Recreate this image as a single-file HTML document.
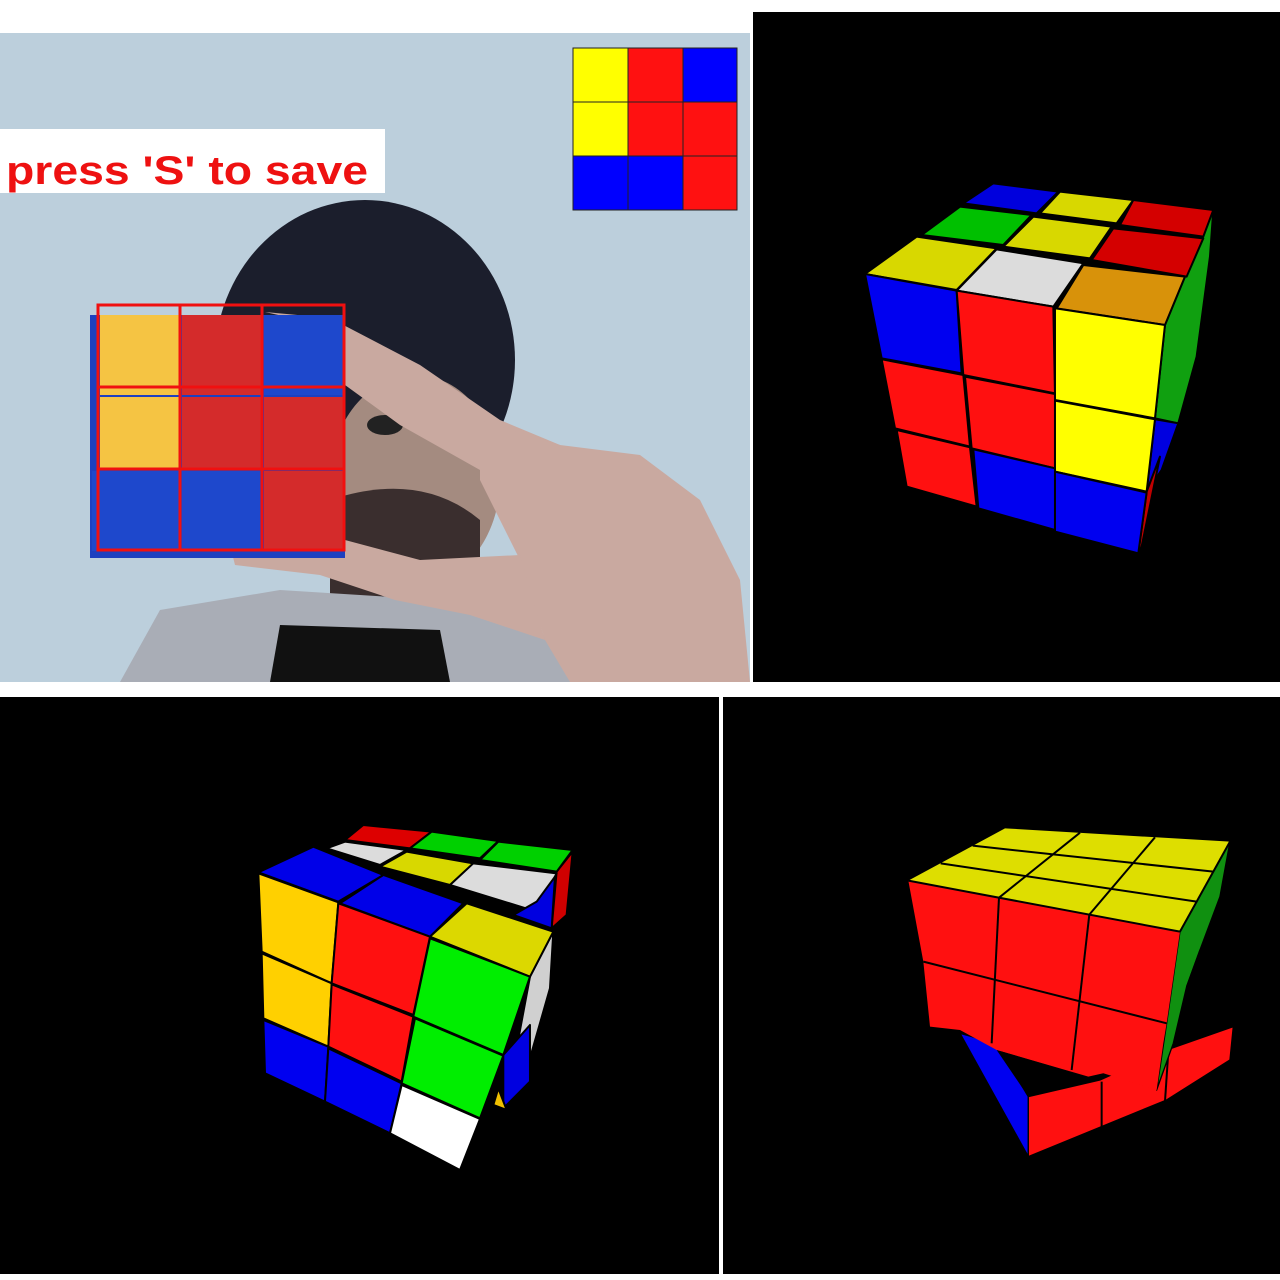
<!DOCTYPE html>
<html><head><meta charset="utf-8"><style>
html,body{margin:0;padding:0;background:#fff;width:1280px;height:1280px;overflow:hidden}
svg{display:block}
</style></head><body>
<svg width="1280" height="1280" viewBox="0 0 1280 1280">
<rect x="0" y="0" width="1280" height="1280" fill="#fff"/>
<!-- Top-left webcam photo -->
<g>
  <rect x="0" y="33" width="750" height="649" fill="#bccfdc"/>
  <ellipse cx="365" cy="360" rx="150" ry="160" fill="#1b1e2c"/>
  <ellipse cx="415" cy="480" rx="85" ry="105" fill="#a48b80"/>
  <ellipse cx="385" cy="425" rx="18" ry="10" fill="#222"/>
  <path d="M330 500 Q420 470 480 520 L480 620 L330 620Z" fill="#3a2e2e"/>
  <path d="M120 682 L160 610 L280 590 L440 600 L560 640 L580 682Z" fill="#a9adb6"/>
  <path d="M270 682 L280 625 L440 630 L450 682Z" fill="#111"/>
  <g fill="#c9a9a0">
    <path d="M265 312 L330 318 L420 365 L500 420 L560 445 L560 500 L480 470 L400 425 L345 385 L345 330Z"/>
    <path d="M480 420 L560 445 L640 455 L700 500 L740 580 L750 682 L570 682 L545 640 L520 560 L480 480Z"/>
    <path d="M230 545 L345 540 L420 560 L520 555 L545 640 L470 615 L395 600 L320 575 L235 565Z"/>
  </g>
  <!-- physical cube -->
  <g>
    <rect x="90" y="315" width="255" height="243" fill="#1d40c0"/>
    <rect x="100" y="315" width="80" height="80" fill="#f5c443"/>
    <rect x="182" y="315" width="80" height="80" fill="#d42b2b"/>
    <rect x="264" y="315" width="80" height="80" fill="#1e48cc"/>
    <rect x="100" y="397" width="80" height="72" fill="#f5c443"/>
    <rect x="182" y="397" width="80" height="72" fill="#d42b2b"/>
    <rect x="264" y="397" width="80" height="72" fill="#d42b2b"/>
    <rect x="92" y="471" width="88" height="80" fill="#1e48cc"/>
    <rect x="182" y="471" width="80" height="80" fill="#1e48cc"/>
    <rect x="264" y="471" width="80" height="80" fill="#d42b2b"/>
  </g>
  <g fill="none" stroke="#f01010" stroke-width="3">
    <rect x="98" y="305" width="246" height="245"/>
    <line x1="180" y1="305" x2="180" y2="550"/><line x1="262" y1="305" x2="262" y2="550"/>
    <line x1="98" y1="387" x2="344" y2="387"/><line x1="98" y1="469" x2="344" y2="469"/>
  </g>
  <rect x="0" y="129" width="385" height="64" fill="#fff"/>
  <text x="6" y="184" font-family="'Liberation Sans',sans-serif" font-size="40" font-weight="bold" fill="#ee1111" textLength="362" lengthAdjust="spacingAndGlyphs">press 'S' to save</text>
  <g stroke="#222" stroke-width="1">
    <rect x="573" y="48" width="55" height="54" fill="#ffff00"/>
    <rect x="628" y="48" width="55" height="54" fill="#ff1111"/>
    <rect x="683" y="48" width="54" height="54" fill="#0000ff"/>
    <rect x="573" y="102" width="55" height="54" fill="#ffff00"/>
    <rect x="628" y="102" width="55" height="54" fill="#ff1111"/>
    <rect x="683" y="102" width="54" height="54" fill="#ff1111"/>
    <rect x="573" y="156" width="55" height="54" fill="#0000ff"/>
    <rect x="628" y="156" width="55" height="54" fill="#0000ff"/>
    <rect x="683" y="156" width="54" height="54" fill="#ff1111"/>
  </g>
</g>
<!-- black panels -->
<rect x="753" y="12" width="527" height="670" fill="#000"/>
<rect x="0" y="697" width="719" height="577" fill="#000"/>
<rect x="723" y="697" width="557" height="577" fill="#000"/>

<!-- Cube 1 -->
<g transform="translate(850,170) scale(0.3333)" stroke="#000" stroke-width="6" stroke-linejoin="round">
  <polygon points="945,465 1005,320 1090,120 1080,260 1040,560 985,760 915,745" fill="#10a010"/>
  <polygon points="915,748 985,760 935,900 890,965" fill="#0000e0"/>
  <polygon points="890,965 930,860 875,1130 865,1150" fill="#c00000"/>
  <polygon points="340,100 430,40 625,65 560,130" fill="#0000dd"/>
  <polygon points="570,130 630,65 850,90 800,160" fill="#d8d800"/>
  <polygon points="810,165 850,90 1090,120 1060,200" fill="#d40000"/>
  <polygon points="215,195 330,110 545,135 460,225" fill="#00c000"/>
  <polygon points="460,230 550,140 785,170 720,265" fill="#d8d800"/>
  <polygon points="725,270 790,175 1060,205 1010,320" fill="#d40000"/>
  <polygon points="45,312 200,200 440,235 320,360" fill="#d8d800"/>
  <polygon points="320,362 440,238 700,280 610,410" fill="#dcdcdc"/>
  <polygon points="620,415 700,285 1005,320 945,465" fill="#d8920a"/>
  <polygon points="45,312 320,362 335,610 95,565" fill="#0000f0"/>
  <polygon points="320,362 610,410 615,670 340,615" fill="#ff1010"/>
  <polygon points="615,415 945,465 915,745 615,690" fill="#ffff00"/>
  <polygon points="95,568 340,615 360,830 135,775" fill="#ff1010"/>
  <polygon points="345,620 615,672 615,895 365,835" fill="#ff1010"/>
  <polygon points="615,692 915,748 890,965 615,905" fill="#ffff00"/>
  <polygon points="140,780 360,832 380,1010 170,950" fill="#ff1010"/>
  <polygon points="370,838 615,895 615,1080 385,1015" fill="#0000f0"/>
  <polygon points="615,905 890,968 865,1150 615,1085" fill="#0000f0"/>
</g>

<!-- Cube 2 -->
<g transform="translate(250,815) scale(0.3333)" stroke="#000" stroke-width="6" stroke-linejoin="round">
  <polygon points="905,340 920,170 968,110 950,300" fill="#d00000"/>
  <polygon points="910,350 840,485 800,700 840,730 900,520" fill="#d0d0d0"/>
  <polygon points="760,720 840,630 840,800 760,880" fill="#0000e0"/>
  <polygon points="730,870 770,885 745,820" fill="#f0c000"/>
  <polygon points="285,75 340,30 545,50 480,100" fill="#dd0000"/>
  <polygon points="230,100 285,80 470,105 390,150" fill="#dcdcdc"/>
  <polygon points="480,100 545,50 745,78 690,130" fill="#00d000"/>
  <polygon points="690,135 745,80 968,105 920,170" fill="#00d000"/>
  <polygon points="390,155 470,110 670,145 600,210" fill="#d8d800"/>
  <polygon points="600,210 670,145 920,175 860,290" fill="#dcdcdc"/>
  <polygon points="790,300 860,260 915,185 905,340" fill="#0000e0"/>
  <polygon points="25,172 190,95 400,180 265,260" fill="#0000e8"/>
  <polygon points="270,265 400,180 640,265 540,365" fill="#0000e8"/>
  <polygon points="25,175 265,262 245,505 35,410" fill="#ffd000"/>
  <polygon points="35,415 245,505 235,695 40,610" fill="#ffd000"/>
  <polygon points="40,615 235,695 225,860 45,775" fill="#0000f0"/>
  <polygon points="265,265 540,365 490,600 245,505" fill="#ff1010"/>
  <polygon points="245,508 490,605 455,800 235,695" fill="#ff1010"/>
  <polygon points="235,700 455,805 420,955 225,860" fill="#0000f0"/>
  <polygon points="540,365 650,265 910,350 840,485" fill="#dcd800"/>
  <polygon points="540,370 840,485 760,720 490,605" fill="#00ee00"/>
  <polygon points="495,610 760,722 690,910 455,805" fill="#00ee00"/>
  <polygon points="455,810 690,912 630,1065 420,955" fill="#ffffff"/>
</g>

<!-- Cube 3 -->
<g transform="translate(900,810) scale(0.3333)" stroke-linejoin="round">
  <polygon points="180,670 290,700 385,860 385,1040" fill="#0000f0" stroke="#000" stroke-width="4"/>
  <polygon points="385,860 600,810 800,720 1000,650 990,750 800,870 385,1040" fill="#ff1010" stroke="#000" stroke-width="4"/>
  <line x1="605" y1="815" x2="605" y2="955" stroke="#000" stroke-width="6"/>
  <line x1="805" y1="725" x2="795" y2="875" stroke="#000" stroke-width="6"/>
  <polygon points="840,365 990,95 960,260 900,420 860,530 820,700 770,840 800,640" fill="#109010" stroke="#000" stroke-width="4"/>
  <polygon points="25,212 840,365 800,640 790,700 770,840 610,790 565,800 290,720 180,660 90,650 70,455" fill="#ff1010"/>
  <polygon points="290,720 560,800 385,860" fill="#000"/>
  <polygon points="25,212 315,55 990,95 840,365" fill="#dede00"/>
  <g stroke="#000" stroke-width="6" fill="none">
    <path d="M122 160 L890 275"/>
    <path d="M218 107 L940 185"/>
    <path d="M297 263 L540 68"/>
    <path d="M568 314 L765 82"/>
    <path d="M297 263 L275 700"/>
    <path d="M568 314 L515 780"/>
    <path d="M70 455 L800 640"/>
    <path d="M25 212 L840 365"/>
    <path d="M840 365 L990 95"/>
    <path d="M900 420 L860 530" stroke-width="4"/>
  </g>
</g>
</svg>
</body></html>
